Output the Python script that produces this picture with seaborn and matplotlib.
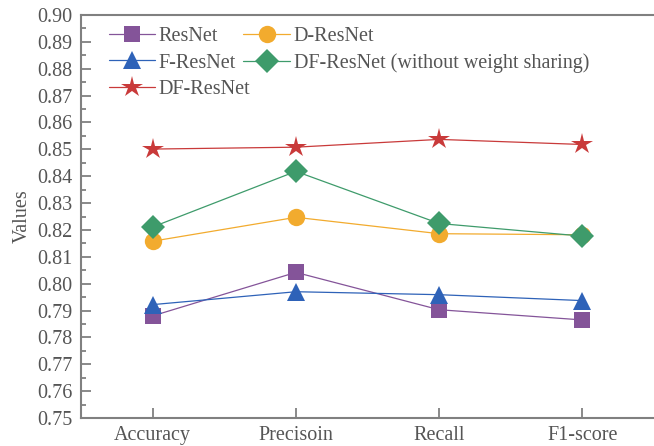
import numpy as np
import pandas as pd
import matplotlib
matplotlib.use("Agg")
import matplotlib.pyplot as plt
from matplotlib.ticker import MultipleLocator, FormatStrFormatter
import seaborn as sns

metrics = ["Accuracy", "Precisoin", "Recall", "F1-score"]
resnet = [0.788, 0.8042, 0.7903, 0.7865]
d_resnet = [0.8158, 0.8247, 0.8186, 0.8182]
f_resnet = [0.7922, 0.7970, 0.7959, 0.7937]
df_resnet_nows = [0.8211, 0.8418, 0.8224, 0.8177]
df_resnet = [0.8501, 0.8508, 0.8537, 0.8518]

models = ["ResNet", "D-ResNet", "F-ResNet",
          "DF-ResNet (without weight sharing)", "DF-ResNet"]
series = [resnet, d_resnet, f_resnet, df_resnet_nows, df_resnet]
colors = ["#845499", "#F2AB2E", "#2E62B8", "#3E9B6B", "#C93A3A"]
markers = ["s", "o", "^", "D", "*"]
sizes = [12, 12.5, 13.5, 12, 16]

df = pd.DataFrame({
    "metric": np.tile(metrics, len(models)),
    "x": np.tile(np.arange(len(metrics)), len(models)),
    "model": np.repeat(models, len(metrics)),
    "value": np.concatenate(series),
})

sns.set_style("ticks")
plt.rcParams["font.family"] = ["Liberation Serif", "DejaVu Serif"]
text_c = "#555555"
spine_c = "#808080"

fig = plt.figure(figsize=(6.54, 4.46), dpi=100)
ax = fig.add_axes([81 / 654, 28 / 446, 1 - 81 / 654, 403 / 446])

for name, col, mk, ms in zip(models, colors, markers, sizes):
    sub = df[df["model"] == name]
    sns.lineplot(data=sub, x="x", y="value", ax=ax, color=col, marker=mk,
                 markersize=ms, markeredgewidth=0, linewidth=0.9,
                 label=name, legend=False)

ax.set_xlim(-0.5, 3.5)
ax.set_ylim(0.75, 0.90)
ax.set_xticks(range(len(metrics)))
ax.set_xticklabels(metrics)
ax.yaxis.set_major_locator(MultipleLocator(0.01))
ax.yaxis.set_minor_locator(MultipleLocator(0.005))
ax.yaxis.set_major_formatter(FormatStrFormatter("%.2f"))
ax.set_xlabel("")
ax.set_ylabel("Values", fontsize=14.5, color=text_c, labelpad=4)

ax.tick_params(axis="both", which="both", direction="in", color=spine_c,
               labelcolor=text_c, labelsize=14.5, width=1.3)
ax.tick_params(axis="y", which="major", length=7, pad=6)
ax.tick_params(axis="y", which="minor", length=3.5)
ax.tick_params(axis="x", which="major", length=7, pad=6)
ax.tick_params(axis="x", which="minor", bottom=False)

for side in ["left", "bottom", "top"]:
    ax.spines[side].set_color(spine_c)
    ax.spines[side].set_linewidth(1.5)
ax.spines["right"].set_visible(False)

handles, labels = ax.get_legend_handles_labels()
order = [0, 2, 4, 1, 3]
leg = ax.legend([handles[i] for i in order], [labels[i] for i in order],
                ncol=2, frameon=False, loc="upper left",
                bbox_to_anchor=(0.027, 1.0), fontsize=14.5,
                handlelength=2.3, handletextpad=0.2, columnspacing=-0.35,
                labelspacing=0.36, borderaxespad=0.2)
for t in leg.get_texts():
    t.set_color(text_c)

fig.savefig("out.png", dpi=100)
